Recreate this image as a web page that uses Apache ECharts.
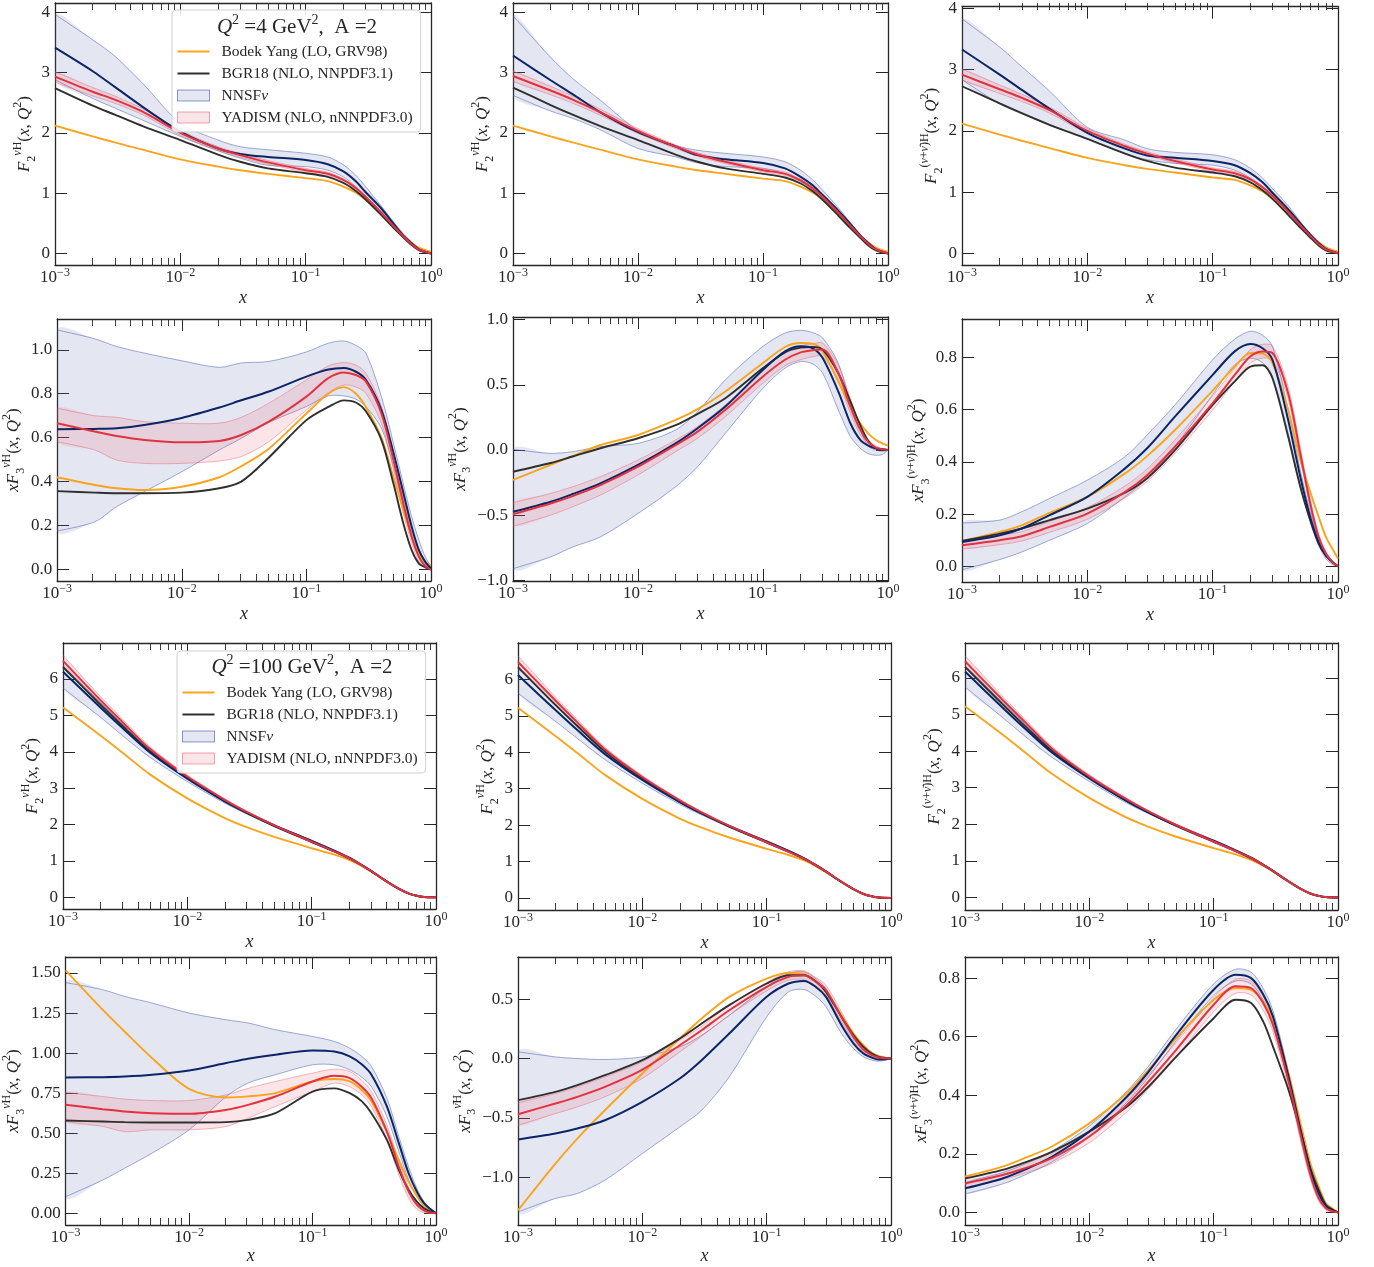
<!DOCTYPE html>
<html>
<head>
<meta charset="utf-8">
<script src="https://cdn.jsdelivr.net/npm/echarts@6/dist/echarts.min.js"></script>
<style>
html, body { margin: 0; padding: 0; background: #ffffff; }
#chart { width: 1374px; height: 1267px; }
</style>
</head>
<body>
<div id="chart"></div>
<script>
// ---- sampling grid in x (Bjorken x) ----
const xs = [0.001, 0.002, 0.003, 0.005, 0.01, 0.02, 0.03, 0.05, 0.1, 0.15, 0.2, 0.25, 0.3, 0.4, 0.5, 0.6, 0.7, 0.8, 0.9, 1];

// ---- tick values ----
const xMajor = [0.001, 0.01, 0.1, 1];
const xMinor = [0.002, 0.003, 0.004, 0.005, 0.006, 0.007, 0.008, 0.009,
                0.02, 0.03, 0.04, 0.05, 0.06, 0.07, 0.08, 0.09,
                0.2, 0.3, 0.4, 0.5, 0.6, 0.7, 0.8, 0.9];
const ticksF2Q4 = [0, 1, 2, 3, 4];
const ticksX3NuQ4 = [0, 0.2, 0.4, 0.6, 0.8, 1.0];
const ticksX3NbQ4 = [-1, -0.5, 0, 0.5, 1];
const ticksX3NsQ4 = [0, 0.2, 0.4, 0.6, 0.8];
const ticksF2Q100 = [0, 1, 2, 3, 4, 5, 6];
const ticksX3NuQ100 = [0, 0.25, 0.5, 0.75, 1, 1.25, 1.5];
const ticksX3NbQ100 = [-1, -0.5, 0, 0.5];
const ticksX3NsQ100 = [0, 0.2, 0.4, 0.6, 0.8];

// ---- Q^2 = 4 GeV^2 : F2 (nu) ----
const f2nu4By   = [2.12, 1.94, 1.84, 1.72, 1.56, 1.44, 1.38, 1.32, 1.25, 1.20, 1.11, 1.01, 0.89, 0.66, 0.46, 0.30, 0.18, 0.10, 0.055, 0.03];
const f2nu4Bgr  = [2.74, 2.45, 2.30, 2.11, 1.88, 1.64, 1.52, 1.41, 1.33, 1.27, 1.17, 1.04, 0.90, 0.64, 0.43, 0.27, 0.14, 0.055, 0.02, 0.0];
const f2nu4Nn   = [3.41, 3.02, 2.76, 2.43, 2.02, 1.74, 1.65, 1.60, 1.55, 1.48, 1.36, 1.20, 1.02, 0.75, 0.50, 0.30, 0.17, 0.07, 0.03, 0.0];
const f2nu4NnLo = [2.88, 2.57, 2.41, 2.21, 1.94, 1.70, 1.58, 1.46, 1.44, 1.38, 1.27, 1.11, 0.94, 0.69, 0.47, 0.28, 0.15, 0.055, 0.02, 0.0];
const f2nu4NnHi = [3.96, 3.54, 3.27, 2.82, 2.16, 1.88, 1.77, 1.72, 1.66, 1.60, 1.47, 1.30, 1.11, 0.79, 0.53, 0.33, 0.19, 0.08, 0.04, 0.01];
const f2nu4Ya   = [2.93, 2.68, 2.55, 2.35, 2.00, 1.74, 1.63, 1.51, 1.38, 1.32, 1.22, 1.09, 0.94, 0.68, 0.46, 0.29, 0.155, 0.066, 0.03, 0.005];
const f2nu4YaLo = [2.84, 2.61, 2.49, 2.30, 1.96, 1.71, 1.60, 1.48, 1.35, 1.29, 1.20, 1.07, 0.92, 0.665, 0.45, 0.28, 0.15, 0.06, 0.025, 0.003];
const f2nu4YaHi = [3.01, 2.75, 2.61, 2.40, 2.04, 1.77, 1.66, 1.54, 1.41, 1.35, 1.24, 1.11, 0.96, 0.695, 0.47, 0.30, 0.16, 0.072, 0.035, 0.008];

// ---- Q^2 = 4 GeV^2 : F2 (nubar) ----
const f2nb4By   = [2.12, 1.94, 1.84, 1.72, 1.56, 1.44, 1.38, 1.32, 1.24, 1.20, 1.11, 1.01, 0.89, 0.66, 0.46, 0.30, 0.18, 0.10, 0.055, 0.03];
const f2nb4Bgr  = [2.75, 2.46, 2.30, 2.11, 1.88, 1.64, 1.52, 1.41, 1.32, 1.26, 1.16, 1.03, 0.89, 0.63, 0.42, 0.26, 0.13, 0.05, 0.02, 0.0];
const f2nb4Nn   = [3.28, 2.87, 2.64, 2.34, 2.01, 1.77, 1.63, 1.56, 1.50, 1.41, 1.27, 1.13, 0.97, 0.71, 0.49, 0.30, 0.17, 0.07, 0.03, 0.0];
const f2nb4NnLo = [2.62, 2.36, 2.24, 2.05, 1.74, 1.60, 1.50, 1.44, 1.41, 1.32, 1.19, 1.05, 0.89, 0.65, 0.45, 0.29, 0.15, 0.055, 0.02, 0.0];
const f2nb4NnHi = [3.94, 3.25, 2.90, 2.54, 2.04, 1.79, 1.71, 1.66, 1.60, 1.52, 1.38, 1.22, 1.05, 0.76, 0.51, 0.32, 0.18, 0.08, 0.035, 0.01];
const f2nb4Ya   = [2.94, 2.70, 2.55, 2.34, 2.03, 1.77, 1.64, 1.52, 1.38, 1.32, 1.21, 1.08, 0.94, 0.68, 0.46, 0.29, 0.155, 0.066, 0.03, 0.005];
const f2nb4YaLo = [2.85, 2.63, 2.49, 2.29, 1.99, 1.74, 1.61, 1.49, 1.35, 1.29, 1.19, 1.06, 0.92, 0.665, 0.45, 0.28, 0.15, 0.06, 0.025, 0.003];
const f2nb4YaHi = [3.02, 2.77, 2.61, 2.39, 2.07, 1.80, 1.67, 1.55, 1.41, 1.35, 1.23, 1.10, 0.96, 0.695, 0.47, 0.30, 0.16, 0.072, 0.035, 0.008];

// ---- Q^2 = 4 GeV^2 : F2 (nu + nubar) ----
const f2ns4By   = [2.12, 1.94, 1.84, 1.72, 1.56, 1.44, 1.38, 1.32, 1.24, 1.20, 1.11, 1.01, 0.89, 0.66, 0.46, 0.30, 0.18, 0.10, 0.055, 0.03];
const f2ns4Bgr  = [2.73, 2.45, 2.29, 2.10, 1.87, 1.63, 1.51, 1.40, 1.32, 1.26, 1.16, 1.03, 0.89, 0.63, 0.42, 0.26, 0.13, 0.05, 0.02, 0.0];
const f2ns4Nn   = [3.33, 2.92, 2.67, 2.36, 1.97, 1.71, 1.60, 1.56, 1.51, 1.44, 1.31, 1.16, 0.99, 0.72, 0.49, 0.31, 0.17, 0.075, 0.03, 0.0];
const f2ns4NnLo = [2.84, 2.44, 2.28, 2.09, 1.87, 1.63, 1.53, 1.47, 1.44, 1.36, 1.23, 1.08, 0.92, 0.66, 0.46, 0.29, 0.155, 0.06, 0.02, 0.0];
const f2ns4NnHi = [3.83, 3.37, 3.05, 2.65, 2.06, 1.85, 1.71, 1.65, 1.61, 1.53, 1.39, 1.23, 1.06, 0.78, 0.52, 0.32, 0.18, 0.085, 0.04, 0.01];
const f2ns4Ya   = [2.92, 2.68, 2.54, 2.34, 2.00, 1.75, 1.63, 1.51, 1.37, 1.31, 1.21, 1.08, 0.94, 0.68, 0.46, 0.29, 0.155, 0.066, 0.03, 0.005];
const f2ns4YaLo = [2.83, 2.61, 2.48, 2.29, 1.96, 1.72, 1.60, 1.48, 1.34, 1.28, 1.19, 1.06, 0.92, 0.665, 0.45, 0.28, 0.15, 0.06, 0.025, 0.003];
const f2ns4YaHi = [3.01, 2.75, 2.60, 2.39, 2.04, 1.78, 1.66, 1.54, 1.40, 1.34, 1.23, 1.10, 0.96, 0.695, 0.47, 0.30, 0.16, 0.072, 0.035, 0.008];

// ---- Q^2 = 4 GeV^2 : xF3 (nu) ----
const x3nu4By   = [0.42, 0.385, 0.37, 0.362, 0.377, 0.42, 0.47, 0.55, 0.71, 0.80, 0.83, 0.80, 0.74, 0.60, 0.42, 0.27, 0.15, 0.073, 0.035, 0.02];
const x3nu4Bgr  = [0.357, 0.35, 0.347, 0.347, 0.35, 0.37, 0.40, 0.51, 0.68, 0.74, 0.77, 0.76, 0.72, 0.59, 0.39, 0.21, 0.088, 0.027, 0.01, 0.0];
const x3nu4Nn   = [0.638, 0.64, 0.643, 0.658, 0.69, 0.737, 0.77, 0.81, 0.878, 0.91, 0.917, 0.90, 0.863, 0.726, 0.53, 0.35, 0.195, 0.088, 0.035, 0.005];
const x3nu4NnLo = [0.176, 0.217, 0.286, 0.354, 0.445, 0.544, 0.597, 0.669, 0.742, 0.79, 0.79, 0.775, 0.742, 0.643, 0.468, 0.286, 0.149, 0.058, 0.02, 0.0];
const x3nu4NnHi = [1.09, 1.05, 1.015, 0.985, 0.95, 0.92, 0.94, 0.947, 0.99, 1.03, 1.04, 1.02, 0.985, 0.787, 0.574, 0.39, 0.24, 0.134, 0.058, 0.012];
const x3nu4Ya   = [0.666, 0.628, 0.608, 0.59, 0.579, 0.585, 0.612, 0.673, 0.787, 0.871, 0.897, 0.885, 0.856, 0.711, 0.498, 0.30, 0.149, 0.058, 0.015, 0.0];
const x3nu4YaLo = [0.582, 0.544, 0.498, 0.483, 0.483, 0.494, 0.514, 0.582, 0.726, 0.805, 0.84, 0.83, 0.802, 0.666, 0.453, 0.255, 0.119, 0.035, 0.009, 0.0];
const x3nu4YaHi = [0.734, 0.70, 0.693, 0.673, 0.666, 0.666, 0.693, 0.757, 0.863, 0.927, 0.942, 0.93, 0.894, 0.742, 0.529, 0.331, 0.172, 0.073, 0.024, 0.0];

// ---- Q^2 = 4 GeV^2 : xF3 (nubar) ----
const x3nb4By   = [-0.23, -0.115, -0.046, 0.038, 0.115, 0.23, 0.313, 0.449, 0.667, 0.79, 0.82, 0.815, 0.756, 0.526, 0.333, 0.205, 0.123, 0.077, 0.051, 0.033];
const x3nb4Bgr  = [-0.167, -0.10, -0.05, 0.013, 0.09, 0.19, 0.277, 0.397, 0.628, 0.749, 0.785, 0.79, 0.77, 0.59, 0.372, 0.19, 0.064, 0.013, 0.0, 0.0];
const x3nb4Nn   = [-0.474, -0.397, -0.338, -0.256, -0.115, 0.051, 0.167, 0.333, 0.615, 0.756, 0.795, 0.78, 0.705, 0.449, 0.205, 0.077, 0.031, 0.013, 0.005, 0.0];
const x3nb4NnLo = [-0.91, -0.82, -0.744, -0.667, -0.487, -0.282, -0.128, 0.128, 0.474, 0.628, 0.679, 0.66, 0.59, 0.308, 0.103, 0.013, -0.03, -0.04, -0.035, 0.0];
const x3nb4NnHi = [0.005, -0.026, -0.013, 0.026, 0.051, 0.154, 0.295, 0.538, 0.795, 0.897, 0.918, 0.90, 0.859, 0.667, 0.359, 0.154, 0.026, 0.0, -0.01, 0.0];
const x3nb4Ya   = [-0.492, -0.41, -0.354, -0.27, -0.128, 0.038, 0.141, 0.308, 0.564, 0.692, 0.749, 0.765, 0.77, 0.59, 0.333, 0.154, 0.056, 0.018, 0.005, 0.0];
const x3nb4YaLo = [-0.585, -0.50, -0.436, -0.346, -0.192, -0.013, 0.09, 0.256, 0.513, 0.646, 0.692, 0.715, 0.718, 0.526, 0.282, 0.115, 0.038, 0.005, 0.0, 0.0];
const x3nb4YaHi = [-0.405, -0.333, -0.282, -0.205, -0.077, 0.077, 0.18, 0.346, 0.615, 0.749, 0.80, 0.815, 0.82, 0.654, 0.397, 0.192, 0.077, 0.031, 0.012, 0.0];

// ---- Q^2 = 4 GeV^2 : xF3 (nu + nubar) ----
const x3ns4By   = [0.097, 0.132, 0.157, 0.205, 0.266, 0.356, 0.422, 0.522, 0.673, 0.765, 0.817, 0.815, 0.778, 0.60, 0.407, 0.285, 0.19, 0.113, 0.068, 0.03];
const x3ns4Bgr  = [0.097, 0.125, 0.145, 0.177, 0.221, 0.282, 0.337, 0.445, 0.618, 0.708, 0.765, 0.77, 0.72, 0.497, 0.305, 0.177, 0.087, 0.042, 0.017, 0.0];
const x3ns4Nn   = [0.093, 0.119, 0.145, 0.196, 0.266, 0.375, 0.452, 0.573, 0.733, 0.823, 0.851, 0.835, 0.791, 0.561, 0.343, 0.189, 0.093, 0.042, 0.017, 0.0];
const x3ns4NnLo = [-0.013, 0.026, 0.055, 0.10, 0.164, 0.266, 0.337, 0.458, 0.657, 0.772, 0.797, 0.78, 0.727, 0.509, 0.311, 0.17, 0.081, 0.029, 0.008, 0.0];
const x3ns4NnHi = [0.166, 0.177, 0.209, 0.26, 0.33, 0.42, 0.503, 0.618, 0.791, 0.87, 0.90, 0.885, 0.842, 0.60, 0.369, 0.209, 0.106, 0.051, 0.02, 0.0];
const x3ns4Ya   = [0.081, 0.10, 0.115, 0.151, 0.202, 0.285, 0.349, 0.458, 0.625, 0.733, 0.804, 0.823, 0.817, 0.663, 0.433, 0.241, 0.113, 0.049, 0.017, 0.0];
const x3ns4YaLo = [0.066, 0.083, 0.097, 0.130, 0.180, 0.262, 0.325, 0.432, 0.598, 0.708, 0.778, 0.797, 0.79, 0.64, 0.41, 0.222, 0.10, 0.04, 0.012, 0.0];
const x3ns4YaHi = [0.098, 0.118, 0.133, 0.172, 0.225, 0.308, 0.373, 0.484, 0.652, 0.758, 0.83, 0.85, 0.844, 0.688, 0.456, 0.26, 0.126, 0.058, 0.022, 0.0];

// ---- Q^2 = 100 GeV^2 : F2 (nu) ----
const f2nu100By   = [5.22, 4.45, 3.98, 3.38, 2.72, 2.18, 1.93, 1.66, 1.35, 1.18, 1.03, 0.87, 0.71, 0.44, 0.24, 0.11, 0.045, 0.013, 0.003, 0.0];
const f2nu100Bgr  = [6.33, 5.30, 4.72, 4.02, 3.28, 2.64, 2.32, 1.96, 1.52, 1.27, 1.07, 0.89, 0.72, 0.44, 0.24, 0.11, 0.045, 0.013, 0.003, 0.0];
const f2nu100Nn   = [6.20, 5.22, 4.66, 3.98, 3.26, 2.64, 2.33, 1.98, 1.55, 1.29, 1.09, 0.90, 0.73, 0.44, 0.24, 0.11, 0.045, 0.013, 0.003, 0.0];
const f2nu100NnLo = [5.75, 4.95, 4.45, 3.85, 3.18, 2.59, 2.29, 1.95, 1.52, 1.27, 1.07, 0.885, 0.72, 0.435, 0.235, 0.107, 0.043, 0.012, 0.003, 0.0];
const f2nu100NnHi = [6.35, 5.35, 4.76, 4.06, 3.31, 2.68, 2.36, 2.00, 1.57, 1.31, 1.11, 0.915, 0.745, 0.45, 0.245, 0.113, 0.047, 0.014, 0.004, 0.0];
const f2nu100Ya   = [6.50, 5.42, 4.82, 4.08, 3.32, 2.68, 2.35, 1.98, 1.53, 1.27, 1.08, 0.895, 0.725, 0.44, 0.24, 0.11, 0.045, 0.013, 0.003, 0.0];
const f2nu100YaLo = [6.40, 5.35, 4.76, 4.04, 3.29, 2.66, 2.33, 1.96, 1.51, 1.26, 1.07, 0.885, 0.715, 0.435, 0.236, 0.108, 0.044, 0.012, 0.003, 0.0];
const f2nu100YaHi = [6.65, 5.52, 4.90, 4.14, 3.36, 2.71, 2.37, 2.00, 1.55, 1.29, 1.09, 0.905, 0.735, 0.447, 0.244, 0.112, 0.046, 0.014, 0.004, 0.0];

// ---- Q^2 = 100 GeV^2 : F2 (nubar) ----
const f2nb100By   = [5.22, 4.45, 3.98, 3.38, 2.72, 2.18, 1.93, 1.66, 1.35, 1.18, 1.03, 0.87, 0.71, 0.44, 0.24, 0.11, 0.045, 0.013, 0.003, 0.0];
const f2nb100Bgr  = [6.34, 5.30, 4.72, 4.02, 3.28, 2.64, 2.32, 1.96, 1.52, 1.27, 1.07, 0.89, 0.72, 0.44, 0.24, 0.11, 0.045, 0.013, 0.003, 0.0];
const f2nb100Nn   = [6.12, 5.16, 4.61, 3.95, 3.24, 2.63, 2.32, 1.97, 1.55, 1.29, 1.09, 0.90, 0.73, 0.44, 0.24, 0.11, 0.045, 0.013, 0.003, 0.0];
const f2nb100NnLo = [5.62, 4.85, 4.38, 3.80, 3.15, 2.57, 2.28, 1.94, 1.52, 1.27, 1.07, 0.885, 0.72, 0.435, 0.235, 0.107, 0.043, 0.012, 0.003, 0.0];
const f2nb100NnHi = [6.30, 5.32, 4.74, 4.05, 3.30, 2.67, 2.35, 2.00, 1.57, 1.31, 1.11, 0.915, 0.745, 0.45, 0.245, 0.113, 0.047, 0.014, 0.004, 0.0];
const f2nb100Ya   = [6.48, 5.42, 4.82, 4.08, 3.32, 2.68, 2.35, 1.98, 1.53, 1.27, 1.08, 0.895, 0.725, 0.44, 0.24, 0.11, 0.045, 0.013, 0.003, 0.0];
const f2nb100YaLo = [6.38, 5.35, 4.76, 4.04, 3.29, 2.66, 2.33, 1.96, 1.51, 1.26, 1.07, 0.885, 0.715, 0.435, 0.236, 0.108, 0.044, 0.012, 0.003, 0.0];
const f2nb100YaHi = [6.64, 5.52, 4.90, 4.14, 3.36, 2.71, 2.37, 2.00, 1.55, 1.29, 1.09, 0.905, 0.735, 0.447, 0.244, 0.112, 0.046, 0.014, 0.004, 0.0];

// ---- Q^2 = 100 GeV^2 : F2 (nu + nubar) ----
const f2ns100By   = [5.22, 4.45, 3.98, 3.38, 2.72, 2.18, 1.93, 1.66, 1.35, 1.18, 1.03, 0.87, 0.71, 0.44, 0.24, 0.11, 0.045, 0.013, 0.003, 0.0];
const f2ns100Bgr  = [6.30, 5.28, 4.70, 4.01, 3.27, 2.64, 2.32, 1.96, 1.52, 1.27, 1.07, 0.89, 0.72, 0.44, 0.24, 0.11, 0.045, 0.013, 0.003, 0.0];
const f2ns100Nn   = [6.17, 5.19, 4.63, 3.96, 3.25, 2.63, 2.32, 1.97, 1.55, 1.29, 1.09, 0.90, 0.73, 0.44, 0.24, 0.11, 0.045, 0.013, 0.003, 0.0];
const f2ns100NnLo = [5.75, 4.92, 4.42, 3.83, 3.17, 2.58, 2.29, 1.95, 1.52, 1.27, 1.07, 0.885, 0.72, 0.435, 0.235, 0.107, 0.043, 0.012, 0.003, 0.0];
const f2ns100NnHi = [6.32, 5.33, 4.75, 4.05, 3.30, 2.67, 2.35, 2.00, 1.57, 1.31, 1.11, 0.915, 0.745, 0.45, 0.245, 0.113, 0.047, 0.014, 0.004, 0.0];
const f2ns100Ya   = [6.45, 5.40, 4.81, 4.07, 3.31, 2.68, 2.35, 1.98, 1.53, 1.27, 1.08, 0.895, 0.725, 0.44, 0.24, 0.11, 0.045, 0.013, 0.003, 0.0];
const f2ns100YaLo = [6.35, 5.33, 4.75, 4.03, 3.28, 2.66, 2.33, 1.96, 1.51, 1.26, 1.07, 0.885, 0.715, 0.435, 0.236, 0.108, 0.044, 0.012, 0.003, 0.0];
const f2ns100YaHi = [6.60, 5.50, 4.89, 4.13, 3.35, 2.71, 2.37, 2.00, 1.55, 1.29, 1.09, 0.905, 0.735, 0.447, 0.244, 0.112, 0.046, 0.014, 0.004, 0.0];

// ---- Q^2 = 100 GeV^2 : xF3 (nu) ----
const x3nu100By   = [1.517, 1.27, 1.135, 0.97, 0.777, 0.723, 0.73, 0.75, 0.823, 0.838, 0.823, 0.77, 0.70, 0.51, 0.333, 0.198, 0.108, 0.052, 0.02, 0.004];
const x3nu100Bgr  = [0.579, 0.573, 0.569, 0.567, 0.567, 0.569, 0.583, 0.625, 0.76, 0.78, 0.75, 0.70, 0.625, 0.458, 0.27, 0.146, 0.073, 0.031, 0.01, 0.0];
const x3nu100Nn   = [0.848, 0.85, 0.854, 0.865, 0.892, 0.938, 0.965, 0.99, 1.017, 1.01, 0.98, 0.93, 0.865, 0.667, 0.438, 0.25, 0.135, 0.063, 0.027, 0.0];
const x3nu100NnLo = [0.104, 0.208, 0.281, 0.375, 0.521, 0.729, 0.813, 0.865, 0.927, 0.927, 0.896, 0.85, 0.79, 0.604, 0.385, 0.208, 0.104, 0.042, 0.015, 0.0];
const x3nu100NnHi = [1.44, 1.396, 1.354, 1.313, 1.25, 1.208, 1.188, 1.146, 1.104, 1.073, 1.031, 0.98, 0.917, 0.719, 0.479, 0.29, 0.156, 0.073, 0.031, 0.0];
const x3nu100Ya   = [0.677, 0.65, 0.635, 0.625, 0.621, 0.646, 0.677, 0.729, 0.823, 0.858, 0.844, 0.79, 0.719, 0.51, 0.29, 0.135, 0.052, 0.017, 0.004, 0.0];
const x3nu100YaLo = [0.573, 0.542, 0.51, 0.521, 0.521, 0.542, 0.594, 0.667, 0.76, 0.813, 0.79, 0.74, 0.667, 0.458, 0.24, 0.094, 0.025, 0.004, 0.0, 0.0];
const x3nu100YaHi = [0.754, 0.729, 0.713, 0.704, 0.704, 0.74, 0.78, 0.823, 0.875, 0.90, 0.885, 0.83, 0.76, 0.552, 0.323, 0.163, 0.067, 0.025, 0.008, 0.0];

// ---- Q^2 = 100 GeV^2 : xF3 (nubar) ----
const x3nb100By   = [-1.276, -0.883, -0.673, -0.435, -0.126, 0.168, 0.336, 0.519, 0.673, 0.72, 0.709, 0.65, 0.561, 0.364, 0.21, 0.112, 0.048, 0.02, 0.008, 0.0];
const x3nb100Bgr  = [-0.35, -0.28, -0.224, -0.14, -0.014, 0.168, 0.294, 0.449, 0.631, 0.70, 0.70, 0.645, 0.561, 0.35, 0.196, 0.098, 0.042, 0.014, 0.005, 0.0];
const x3nb100Nn   = [-0.681, -0.631, -0.589, -0.519, -0.364, -0.168, -0.014, 0.21, 0.519, 0.631, 0.653, 0.60, 0.519, 0.28, 0.126, 0.042, 0.008, -0.008, -0.005, 0.0];
const x3nb100NnLo = [-1.29, -1.177, -1.135, -1.023, -0.799, -0.575, -0.435, -0.154, 0.35, 0.561, 0.58, 0.52, 0.435, 0.21, 0.084, 0.014, -0.014, -0.022, -0.015, 0.0];
const x3nb100NnHi = [0.056, 0.014, 0.0, -0.008, 0.014, 0.098, 0.196, 0.364, 0.603, 0.715, 0.729, 0.67, 0.589, 0.336, 0.168, 0.07, 0.028, 0.014, 0.005, 0.0];
const x3nb100Ya   = [-0.468, -0.378, -0.322, -0.238, -0.093, 0.112, 0.238, 0.406, 0.603, 0.687, 0.70, 0.645, 0.575, 0.35, 0.182, 0.076, 0.028, 0.008, 0.002, 0.0];
const x3nb100YaLo = [-0.561, -0.463, -0.407, -0.322, -0.168, 0.056, 0.188, 0.364, 0.569, 0.659, 0.664, 0.61, 0.533, 0.308, 0.149, 0.056, 0.014, 0.0, 0.0, 0.0];
const x3nb100YaHi = [-0.373, -0.294, -0.238, -0.154, -0.028, 0.154, 0.272, 0.449, 0.639, 0.729, 0.737, 0.68, 0.617, 0.392, 0.21, 0.098, 0.042, 0.014, 0.004, 0.0];

// ---- Q^2 = 100 GeV^2 : xF3 (nu + nubar) ----
const x3ns100By   = [0.122, 0.156, 0.185, 0.225, 0.304, 0.407, 0.487, 0.595, 0.726, 0.766, 0.76, 0.72, 0.658, 0.475, 0.304, 0.168, 0.088, 0.031, 0.014, 0.0];
const x3ns100Bgr  = [0.116, 0.145, 0.17, 0.207, 0.276, 0.361, 0.43, 0.532, 0.663, 0.726, 0.715, 0.652, 0.566, 0.418, 0.276, 0.15, 0.076, 0.025, 0.01, 0.0];
const x3ns100Nn   = [0.082, 0.116, 0.145, 0.19, 0.276, 0.395, 0.481, 0.606, 0.76, 0.811, 0.80, 0.745, 0.669, 0.464, 0.281, 0.145, 0.065, 0.022, 0.008, 0.0];
const x3ns100NnLo = [0.063, 0.097, 0.127, 0.172, 0.258, 0.376, 0.462, 0.586, 0.74, 0.79, 0.78, 0.725, 0.65, 0.448, 0.268, 0.135, 0.058, 0.017, 0.005, 0.0];
const x3ns100NnHi = [0.102, 0.136, 0.164, 0.209, 0.295, 0.414, 0.50, 0.626, 0.78, 0.83, 0.82, 0.765, 0.688, 0.48, 0.294, 0.155, 0.072, 0.027, 0.011, 0.0];
const x3ns100Ya   = [0.099, 0.128, 0.15, 0.185, 0.259, 0.367, 0.447, 0.555, 0.709, 0.772, 0.766, 0.715, 0.64, 0.447, 0.264, 0.128, 0.048, 0.014, 0.004, 0.0];
const x3ns100YaLo = [0.085, 0.112, 0.133, 0.167, 0.238, 0.343, 0.423, 0.53, 0.685, 0.748, 0.742, 0.69, 0.616, 0.425, 0.245, 0.113, 0.038, 0.008, 0.002, 0.0];
const x3ns100YaHi = [0.113, 0.144, 0.167, 0.203, 0.28, 0.39, 0.47, 0.58, 0.733, 0.796, 0.79, 0.74, 0.664, 0.469, 0.283, 0.143, 0.058, 0.02, 0.006, 0.0];

// ---- labels ----
const NAME_BY = 'Bodek Yang (LO, GRV98)';
const NAME_BGR = 'BGR18 (NLO, NNPDF3.1)';
const NAME_NN = 'NNSFν';
const NAME_YA = 'YADISM (NLO, nNNPDF3.0)';

// ---- styling ----
const FONT = '"Liberation Serif", "DejaVu Serif", serif';
const INK = '#262626';
const C_BY = '#f9a41c';
const C_BGR = '#2f2f2f';
const C_NN = '#0b2566';
const C_YA = '#e1333f';
const NN_FILL = 'rgba(95, 115, 170, 0.17)';
const NN_EDGE = 'rgba(70, 95, 175, 0.65)';
const YA_FILL = 'rgba(235, 80, 100, 0.15)';
const YA_EDGE = 'rgba(232, 90, 110, 0.55)';
const SMOOTH = 0.3;

const nameRich = {
  i: { fontFamily: FONT, fontStyle: 'italic', fontSize: 17, lineHeight: 26, color: INK },
  n: { fontFamily: FONT, fontSize: 17, lineHeight: 26, color: INK },
  sub: { fontFamily: FONT, fontSize: 12, verticalAlign: 'bottom', color: INK },
  sup: { fontFamily: FONT, fontSize: 12, verticalAlign: 'top', color: INK },
  supi: { fontFamily: FONT, fontSize: 12, fontStyle: 'italic', verticalAlign: 'top', color: INK }
};
const tickRich = {
  n: { fontFamily: FONT, fontSize: 17, lineHeight: 21, color: INK },
  s: { fontFamily: FONT, fontSize: 12, verticalAlign: 'top', color: INK }
};

function f2Name(tag) {
  return '{i|F}{sub|2}' + tag + '{n|(}{i|x}{n|, }{i|Q}{sup|2}{n|)}';
}
function xf3Name(tag) {
  return '{i|xF}{sub|3}' + tag + '{n|(}{i|x}{n|, }{i|Q}{sup|2}{n|)}';
}
const TAG_NU = '{supi|ν}{sup|H}';
const TAG_NB = '{supi|ν\u0304}{sup|H}';
const TAG_NS = '{sup|(}{supi|ν}{sup|+}{supi|ν\u0304}{sup|)H}';

// panel layout: [left, top, width, height] in px, y-range, tick list, decimals
const panels = [
  { rect: [55, 3, 376, 262], y: [-0.19, 4.15], ticks: ticksF2Q4, dec: 0, name: f2Name(TAG_NU), gap: 14, xgap: 24,
    d: [f2nu4By, f2nu4Bgr, f2nu4Nn, f2nu4NnLo, f2nu4NnHi, f2nu4Ya, f2nu4YaLo, f2nu4YaHi] },
  { rect: [513, 3, 375, 262], y: [-0.19, 4.15], ticks: ticksF2Q4, dec: 0, name: f2Name(TAG_NB), gap: 12, xgap: 24,
    d: [f2nb4By, f2nb4Bgr, f2nb4Nn, f2nb4NnLo, f2nb4NnHi, f2nb4Ya, f2nb4YaLo, f2nb4YaHi] },
  { rect: [962, 3, 376, 262], y: [-0.19, 4.03], ticks: ticksF2Q4, dec: 0, name: f2Name(TAG_NS), gap: 10, xgap: 24,
    d: [f2ns4By, f2ns4Bgr, f2ns4Nn, f2ns4NnLo, f2ns4NnHi, f2ns4Ya, f2ns4YaLo, f2ns4YaHi] },
  { rect: [55, 319, 376, 262], y: [-0.052, 1.14], ticks: ticksX3NuQ4, dec: 1, name: xf3Name(TAG_NU), gap: 26, xgap: 24,
    d: [x3nu4By, x3nu4Bgr, x3nu4Nn, x3nu4NnLo, x3nu4NnHi, x3nu4Ya, x3nu4YaLo, x3nu4YaHi] },
  { rect: [513, 317, 375, 264], y: [-1.005, 1.02], ticks: ticksX3NbQ4, dec: 1, name: xf3Name(TAG_NB), gap: 36, xgap: 24,
    d: [x3nb4By, x3nb4Bgr, x3nb4Nn, x3nb4NnLo, x3nb4NnHi, x3nb4Ya, x3nb4YaLo, x3nb4YaHi] },
  { rect: [962, 319, 376, 263], y: [-0.06, 0.947], ticks: ticksX3NsQ4, dec: 1, name: xf3Name(TAG_NS), gap: 26, xgap: 24,
    d: [x3ns4By, x3ns4Bgr, x3ns4Nn, x3ns4NnLo, x3ns4NnHi, x3ns4Ya, x3ns4YaLo, x3ns4YaHi] },
  { rect: [63, 643, 373, 266], y: [-0.32, 6.99], ticks: ticksF2Q100, dec: 0, name: f2Name(TAG_NU), gap: 14, xgap: 24,
    d: [f2nu100By, f2nu100Bgr, f2nu100Nn, f2nu100NnLo, f2nu100NnHi, f2nu100Ya, f2nu100YaLo, f2nu100YaHi] },
  { rect: [518, 643, 373, 267], y: [-0.33, 7.0], ticks: ticksF2Q100, dec: 0, name: f2Name(TAG_NB), gap: 12, xgap: 24,
    d: [f2nb100By, f2nb100Bgr, f2nb100Nn, f2nb100NnLo, f2nb100NnHi, f2nb100Ya, f2nb100YaLo, f2nb100YaHi] },
  { rect: [965, 643, 373, 267], y: [-0.34, 6.95], ticks: ticksF2Q100, dec: 0, name: f2Name(TAG_NS), gap: 12, xgap: 24,
    d: [f2ns100By, f2ns100Bgr, f2ns100Nn, f2ns100NnLo, f2ns100NnHi, f2ns100Ya, f2ns100YaLo, f2ns100YaHi] },
  { rect: [63, 957, 373, 268], y: [-0.073, 1.6], ticks: ticksX3NuQ100, dec: 2, name: xf3Name(TAG_NU), gap: 34, xgap: 22,
    d: [x3nu100By, x3nu100Bgr, x3nu100Nn, x3nu100NnLo, x3nu100NnHi, x3nu100Ya, x3nu100YaLo, x3nu100YaHi] },
  { rect: [518, 957, 373, 268], y: [-1.40, 0.854], ticks: ticksX3NbQ100, dec: 1, name: xf3Name(TAG_NB), gap: 39, xgap: 22,
    d: [x3nb100By, x3nb100Bgr, x3nb100Nn, x3nb100NnLo, x3nb100NnHi, x3nb100Ya, x3nb100YaLo, x3nb100YaHi] },
  { rect: [965, 957, 373, 268], y: [-0.043, 0.872], ticks: ticksX3NsQ100, dec: 1, name: xf3Name(TAG_NS), gap: 27, xgap: 22,
    d: [x3ns100By, x3ns100Bgr, x3ns100Nn, x3ns100NnLo, x3ns100NnHi, x3ns100Ya, x3ns100YaLo, x3ns100YaHi] }
];

function fmtX(v) {
  const e = Math.round(Math.log10(v));
  return '{n|10}{s|' + (e < 0 ? '\u2212' + (-e) : String(e)) + '}';
}
function fmtY(dec) {
  return function (v) { return v.toFixed(dec).replace('-', '\u2212'); };
}
function pts(arr) { return xs.map(function (x, i) { return [x, arr[i]]; }); }
function bandRows(lo, hi) { return xs.map(function (x, i) { return [x, lo[i], hi[i]]; }); }

// Uncertainty band: filled region between lower and upper edges, plus thin edge lines.
function bandRenderer(fill, edge) {
  return function (params, api) {
    if (params.dataIndexInside !== 0) return null;
    const n = params.dataInsideLength;
    const lo = [], hi = [];
    for (let i = 0; i < n; i++) {
      const x = api.value(0, i);
      lo.push(api.coord([x, api.value(1, i)]));
      hi.push(api.coord([x, api.value(2, i)]));
    }
    const ring = lo.concat(hi.slice().reverse());
    return {
      type: 'group',
      children: [
        { type: 'polygon', shape: { points: ring, smooth: SMOOTH }, style: { fill: fill, stroke: null } },
        { type: 'polyline', shape: { points: lo, smooth: SMOOTH }, style: { fill: null, stroke: edge, lineWidth: 0.8 } },
        { type: 'polyline', shape: { points: hi, smooth: SMOOTH }, style: { fill: null, stroke: edge, lineWidth: 0.8 } }
      ]
    };
  };
}

const frameLine = { show: true, onZero: false, lineStyle: { color: INK, width: 1.3 } };
const grids = [], xAxes = [], yAxes = [], series = [];

panels.forEach(function (p, k) {
  const r = p.rect;
  const gA = 2 * k, gB = 2 * k + 1;
  grids.push({ left: r[0], top: r[1], width: r[2], height: r[3] });
  grids.push({ left: r[0], top: r[1], width: r[2], height: r[3] });

  const xBase = { type: 'log', logBase: 10, min: 0.001, max: 1, splitLine: { show: false } };
  const majorTick = { show: true, inside: true, length: 12, customValues: xMajor, lineStyle: { color: INK, width: 1 } };
  const minorTick = { show: true, inside: true, length: 7, customValues: xMinor, lineStyle: { color: INK, width: 0.9 } };

  xAxes.push(Object.assign({}, xBase, {
    gridIndex: gA, position: 'bottom', axisLine: frameLine, axisTick: majorTick,
    axisLabel: { show: true, customValues: xMajor, formatter: fmtX, margin: 2, rich: tickRich },
    name: 'x', nameLocation: 'middle', nameGap: p.xgap,
    nameTextStyle: { fontFamily: FONT, fontStyle: 'italic', fontSize: 18, color: INK }
  }));
  xAxes.push(Object.assign({}, xBase, {
    gridIndex: gA, position: 'top', axisLine: frameLine, axisTick: majorTick, axisLabel: { show: false }
  }));
  xAxes.push(Object.assign({}, xBase, {
    gridIndex: gB, position: 'bottom', axisLine: { show: false, onZero: false }, axisTick: minorTick, axisLabel: { show: false }
  }));
  xAxes.push(Object.assign({}, xBase, {
    gridIndex: gB, position: 'top', axisLine: { show: false, onZero: false }, axisTick: minorTick, axisLabel: { show: false }
  }));

  const yTick = { show: true, inside: true, length: 12, customValues: p.ticks, lineStyle: { color: INK, width: 1 } };
  yAxes.push({
    type: 'value', gridIndex: gA, position: 'left', min: p.y[0], max: p.y[1],
    splitLine: { show: false }, axisLine: frameLine, axisTick: yTick,
    axisLabel: { show: true, customValues: p.ticks, formatter: fmtY(p.dec), margin: 5,
                 fontFamily: FONT, fontSize: 17, color: INK },
    name: p.name, nameLocation: 'middle', nameGap: p.gap,
    nameTextStyle: { rich: nameRich, fontFamily: FONT, fontSize: 17, color: INK }
  });
  yAxes.push({
    type: 'value', gridIndex: gA, position: 'right', min: p.y[0], max: p.y[1],
    splitLine: { show: false }, axisLine: frameLine, axisTick: yTick, axisLabel: { show: false }
  });
  yAxes.push({ type: 'value', gridIndex: gB, show: false, min: p.y[0], max: p.y[1] });

  const xi = 4 * k, yi = 3 * k;
  const d = p.d;
  const bandBase = { type: 'custom', coordinateSystem: 'cartesian2d', xAxisIndex: xi, yAxisIndex: yi,
                     encode: { x: 0, y: [1, 2] }, clip: true, silent: true, animation: false };
  series.push(Object.assign({}, bandBase, { name: NAME_NN, data: bandRows(d[3], d[4]),
    renderItem: bandRenderer(NN_FILL, NN_EDGE), itemStyle: { color: NN_FILL } }));
  series.push(Object.assign({}, bandBase, { name: NAME_YA + ' band', data: bandRows(d[6], d[7]),
    renderItem: bandRenderer(YA_FILL, YA_EDGE), itemStyle: { color: YA_FILL } }));

  const base = { type: 'line', xAxisIndex: xi, yAxisIndex: yi, symbol: 'none', showSymbol: false,
                 smooth: SMOOTH, silent: true, animation: false };
  series.push(Object.assign({}, base, { name: NAME_BY, data: pts(d[0]), lineStyle: { color: C_BY, width: 1.9 }, itemStyle: { color: C_BY } }));
  series.push(Object.assign({}, base, { name: NAME_BGR, data: pts(d[1]), lineStyle: { color: C_BGR, width: 1.9 }, itemStyle: { color: C_BGR } }));
  series.push(Object.assign({}, base, { name: NAME_NN + ' central', data: pts(d[2]), lineStyle: { color: C_NN, width: 2 } }));
  series.push(Object.assign({}, base, { name: NAME_YA, data: pts(d[5]), lineStyle: { color: C_YA, width: 2 }, itemStyle: { color: C_YA } }));
});

const LINE_ICON = 'path://M0,0 L32,0 L32,2.2 L0,2.2 Z';
const legendItems = [
  { name: NAME_BY, icon: LINE_ICON, itemStyle: { color: C_BY, borderWidth: 0 } },
  { name: NAME_BGR, icon: LINE_ICON, itemStyle: { color: C_BGR, borderWidth: 0 } },
  { name: NAME_NN, icon: 'rect', itemStyle: { color: NN_FILL, borderColor: NN_EDGE, borderWidth: 1 } },
  { name: NAME_YA, icon: 'rect', itemStyle: { color: YA_FILL, borderColor: YA_EDGE, borderWidth: 1 } }
];
const legendRich = {
  n: { fontFamily: FONT, fontSize: 15.5, color: INK },
  g: { fontFamily: FONT, fontSize: 15.5, fontStyle: 'italic', color: INK }
};
function makeLegend(left, top) {
  return {
    left: left, top: top, orient: 'vertical', selectedMode: false,
    padding: [33, 8, 6, 5], itemWidth: 32, itemHeight: 11, itemGap: 5,
    backgroundColor: 'rgba(255,255,255,0.85)', borderColor: '#d0d0d0', borderWidth: 1, borderRadius: 4,
    textStyle: { fontFamily: FONT, fontSize: 15.5, lineHeight: 17, color: INK, padding: [0, 0, 0, 7], rich: legendRich },
    formatter: function (name) {
      return name === NAME_NN ? '{n|NNSF}{g|ν}' : '{n|' + name + '}';
    },
    data: legendItems
  };
}
const titleRich = {
  i: { fontFamily: FONT, fontStyle: 'italic', fontSize: 21, lineHeight: 28, fill: INK, color: INK },
  n: { fontFamily: FONT, fontSize: 21, lineHeight: 28, fill: INK, color: INK },
  s: { fontFamily: FONT, fontSize: 14, verticalAlign: 'top', fill: INK, color: INK }
};
function legendTitle(q2, x, y) {
  return {
    type: 'text', x: x, y: y, z: 100,
    style: {
      text: '{i|Q}{s|2}{n| =' + q2 + ' GeV}{s|2}{n|,  A =2}',
      rich: titleRich, align: 'center', verticalAlign: 'middle',
      textAlign: 'center', textVerticalAlign: 'middle', fill: INK
    }
  };
}

const chart = echarts.init(document.getElementById('chart'), null, { renderer: 'canvas' });
chart.setOption({
  backgroundColor: '#ffffff',
  animation: false,
  grid: grids,
  xAxis: xAxes,
  yAxis: yAxes,
  legend: [makeLegend(172, 10), makeLegend(177, 651)],
  graphic: [legendTitle('4', 297, 27), legendTitle('100', 302, 667)],
  series: series
});
</script>
</body>
</html>
